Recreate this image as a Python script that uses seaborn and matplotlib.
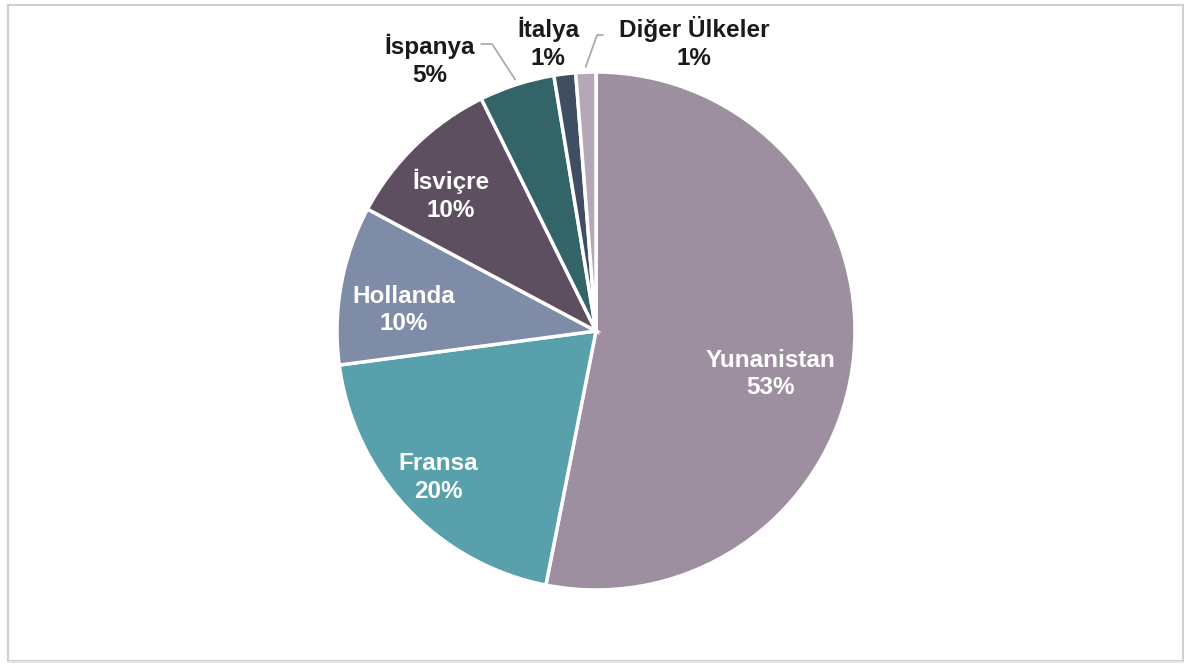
import numpy as np
import matplotlib
matplotlib.use("Agg")
import matplotlib.pyplot as plt
import seaborn as sns
from matplotlib.patches import Rectangle

countries = ["Yunanistan", "Fransa", "Hollanda", "İsviçre", "İspanya", "İtalya", "Diğer Ülkeler"]
shares = [53.1, 19.8, 9.9, 9.9, 4.7, 1.35, 1.25]
pct_labels = ["53%", "20%", "10%", "10%", "5%", "1%", "1%"]
colors = ["#9E8FA0", "#58A0AC", "#7E8CA8", "#5E4F60", "#336468", "#3F4E62", "#B4A8B8"]

sns.set_theme(style="white")
plt.rcParams["font.family"] = ["Liberation Sans", "DejaVu Sans"]

W, H = 1191, 668
fig = plt.figure(figsize=(W / 100, H / 100), dpi=100)
ax = fig.add_axes([0, 0, 1, 1])
R = 259.0
cx, cy = 596.0, 337.0  # center in px from left / from bottom

wedges, _ = ax.pie(shares, colors=colors, startangle=90, counterclock=False,
                   radius=1.0, wedgeprops=dict(edgecolor="white", linewidth=2.5))
ax.set_aspect("auto")
ax.set_xlim(-cx / R, (W - cx) / R)
ax.set_ylim(-cy / R, (H - cy) / R)
ax.axis("off")

FS = 17.5
LS = 1.27

# inside labels: positions in units of pie radius
inside_xy = [(0.674, -0.166), (-0.608, -0.564), (-0.741, 0.081), (-0.560, 0.525)]
for i in range(4):
    x, y = inside_xy[i]
    ax.text(x, y, f"{countries[i]}\n{pct_labels[i]}",
            ha="center", va="center", color="white", fontsize=FS, fontweight="bold",
            linespacing=LS)

# outside labels (text position in pixels from top-left)
out_pos = {4: (430, 60), 5: (548, 43), 6: (694, 43)}
lead = {4: ((481, 44), (492, 44)), 6: ((603, 35), (597, 35))}
for i, (px, py) in out_pos.items():
    w = wedges[i]
    ang = np.deg2rad((w.theta1 + w.theta2) / 2)
    tx, ty = (px - cx) / R, (H - py - cy) / R
    ax.text(tx, ty, f"{countries[i]}\n{pct_labels[i]}", ha="center", va="center",
            color="#1a1a1a", fontsize=FS, fontweight="bold", linespacing=LS)
    if i in lead:
        (ax0, ay0), (ax1, ay1) = lead[i]
        ex, ey = 1.02 * np.cos(ang), 1.02 * np.sin(ang)
        xs = [(ax0 - cx) / R, (ax1 - cx) / R, ex]
        ys = [(H - ay0 - cy) / R, (H - ay1 - cy) / R, ey]
        ax.plot(xs, ys, color="#a6a6a6", lw=1.2)

# frame
fig.patches.append(Rectangle((8 / W, 1 - 661 / H), 1175 / W, 656 / H, transform=fig.transFigure,
                             fill=False, edgecolor="#d0d0d0", lw=1.5))
fig.patches.append(Rectangle((8 / W, 1 - 663 / H), 1175 / W, 2 / H, transform=fig.transFigure,
                             facecolor="#e4e4e4", edgecolor="none"))

fig.savefig("out.png", dpi=100)
